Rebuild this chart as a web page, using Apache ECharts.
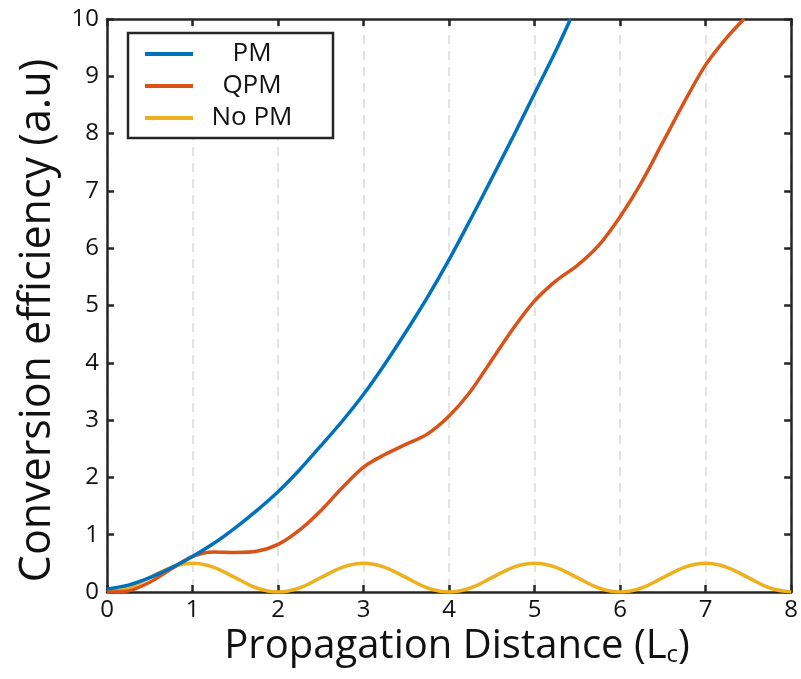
<!DOCTYPE html>
<html>
<head>
<meta charset="utf-8">
<script src="https://cdn.jsdelivr.net/npm/echarts@6/dist/echarts.min.js"></script>
<style>html,body{margin:0;padding:0;background:#fff}#c{width:801px;height:679px}</style>
</head>
<body>
<div id="c"></div>
<script>
const seriesNames = ['PM', 'QPM', 'No PM'];
const xTicks = [0, 1, 2, 3, 4, 5, 6, 7, 8];
const yTicks = [0, 1, 2, 3, 4, 5, 6, 7, 8, 9, 10];

const pmX = [0, 0.25, 0.5, 0.75, 1, 1.25, 1.5, 1.75, 2, 2.25, 2.5, 2.75, 3, 3.25, 3.5, 3.75, 4, 4.25, 4.5, 4.75, 5, 5.25, 5.42];
const pmY = [0.05, 0.12, 0.25, 0.42, 0.62, 0.85, 1.12, 1.42, 1.75, 2.13, 2.55, 2.98, 3.45, 3.98, 4.55, 5.15, 5.8, 6.5, 7.22, 7.95, 8.7, 9.45, 10.0];

const qpmX = [0, 0.25, 0.5, 0.75, 1, 1.25, 1.5, 1.75, 2, 2.25, 2.5, 2.75, 3, 3.25, 3.5, 3.75, 4, 4.25, 4.5, 4.75, 5, 5.25, 5.5, 5.75, 6, 6.25, 6.5, 6.75, 7, 7.25, 7.45];
const qpmY = [0, 0.02, 0.17, 0.4, 0.62, 0.7, 0.69, 0.71, 0.83, 1.08, 1.42, 1.82, 2.18, 2.4, 2.58, 2.76, 3.07, 3.5, 4.05, 4.6, 5.08, 5.43, 5.7, 6.05, 6.55, 7.15, 7.85, 8.55, 9.2, 9.68, 10.0];

const noX = [0, 0.25, 0.5, 0.75, 1, 1.25, 1.5, 1.75, 2, 2.25, 2.5, 2.75, 3, 3.25, 3.5, 3.75, 4, 4.25, 4.5, 4.75, 5, 5.25, 5.5, 5.75, 6, 6.25, 6.5, 6.75, 7, 7.25, 7.5, 7.75, 8];
const noY = [0, 0.07, 0.25, 0.43, 0.5, 0.43, 0.25, 0.07, 0, 0.07, 0.25, 0.43, 0.5, 0.43, 0.25, 0.07, 0, 0.07, 0.25, 0.43, 0.5, 0.43, 0.25, 0.07, 0, 0.07, 0.25, 0.43, 0.5, 0.43, 0.25, 0.07, 0];

const colors = ['#0072BD', '#D95319', '#EDB120'];
const zip = (xs, ys) => xs.map((x, i) => [x, ys[i]]);
const FONT = 'Open Sans';
const AX = '#262626';

const chart = echarts.init(document.getElementById('c'), null, {renderer: 'canvas'});
const axisCommon = {
  type: 'value',
  axisLine: {show: true, onZero: false, lineStyle: {color: AX, width: 2.5}},
  axisTick: {show: true, inside: true, length: 7, lineStyle: {color: AX, width: 2.5}},
  splitLine: {show: false}
};
chart.setOption({
  animation: false,
  color: colors,
  grid: {left: 107, right: 6, top: 19, bottom: 87, containLabel: false},
  legend: {
    data: seriesNames,
    orient: 'vertical',
    left: 128, top: 33,
    padding: [8, 27, 7, 17],
    itemGap: 6,
    itemWidth: 48, itemHeight: 4,
    icon: 'rect',
    borderColor: AX, borderWidth: 2.5,
    backgroundColor: '#fff',
    formatter: n => '{a|' + n + '}',
    textStyle: {fontFamily: FONT, fontSize: 26, color: '#111',
      rich: {a: {fontFamily: FONT, fontSize: 26, color: '#111', width: 108, align: 'center', lineHeight: 26}}}
  },
  xAxis: [
    Object.assign({}, axisCommon, {
      min: 0, max: 8, interval: 1, position: 'bottom',
      axisLabel: {fontFamily: FONT, fontSize: 24, color: '#111', margin: 6,
        formatter: v => xTicks.includes(v) ? String(v) : ''},
      splitLine: {show: true, lineStyle: {color: '#d9d9d9', type: [9, 7], width: 1.5}},
      name: 'Propagation Distance (L{sub|c})',
      nameLocation: 'middle', nameGap: 32,
      nameTextStyle: {fontFamily: FONT, fontSize: 40, color: '#111', padding: [0, 0, 0, 16],
        rich: {sub: {fontFamily: FONT, fontSize: 24, color: '#111', verticalAlign: 'bottom', padding: [16, 0, 0, 0]}}}
    }),
    Object.assign({}, axisCommon, {
      min: 0, max: 8, interval: 1, position: 'top', axisLabel: {show: false}
    })
  ],
  yAxis: [
    Object.assign({}, axisCommon, {
      min: 0, max: 10, interval: 1, position: 'left',
      axisLabel: {fontFamily: FONT, fontSize: 24, color: '#111', margin: 8,
        formatter: v => yTicks.includes(v) ? String(v) : ''},
      name: 'Conversion efficiency (a.u)',
      nameLocation: 'middle', nameGap: 48,
      nameTextStyle: {fontFamily: FONT, fontSize: 43, color: '#111', padding: [0, 30, 0, 0]}
    }),
    Object.assign({}, axisCommon, {
      min: 0, max: 10, interval: 1, position: 'right', axisLabel: {show: false}
    })
  ],
  series: [
    {name: 'PM', type: 'line', data: zip(pmX, pmY), smooth: 0.3, showSymbol: false, lineStyle: {width: 3.5}, z: 5},
    {name: 'QPM', type: 'line', data: zip(qpmX, qpmY), smooth: 0.3, showSymbol: false, lineStyle: {width: 3.5}, z: 4},
    {name: 'No PM', type: 'line', data: zip(noX, noY), smooth: 0.4, showSymbol: false, lineStyle: {width: 3.5}, z: 3}
  ]
});
</script>
</body>
</html>
